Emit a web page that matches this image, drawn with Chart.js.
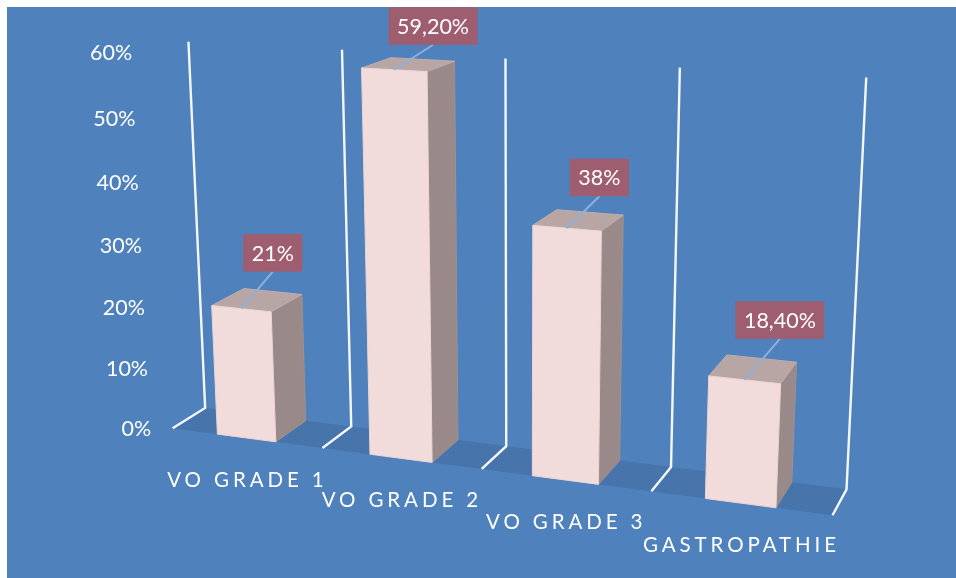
<!DOCTYPE html>
<html><head><meta charset="utf-8">
<style>html,body{margin:0;padding:0;background:#fff}canvas{display:block}</style>
<script src="https://cdn.jsdelivr.net/npm/chart.js@4"></script>
</head><body>
<canvas id="c" width="956" height="578"></canvas>
<script>
const categories = ['VO GRADE 1','VO GRADE 2','VO GRADE 3','GASTROPATHIE'];
const values = [21, 59.2, 38, 18.4];
const valueLabels = ['21%','59,20%','38%','18,40%'];
const yMax = 60, yStep = 10;
// offset of each callout box (bottom centre) from the bar's top front edge
const calloutDx = [31.5, 39, 32.5, 35.5];
const calloutDy = [-37, -25, -32, -41];

// camera calibration: plot-box position [s,t,depth] -> picture position
const sceneBack  = [[205,407.7],[351.7,426.7],[506,446],[670.8,467.2],[846.7,489.3]];
const sceneFront = [[172.7,428.3],[322.3,447.7],[481.7,469.3],[651.7,491.2],[832.3,515.3]];
const sceneTop   = [[188.3,41.7],[342,50],[505.7,58.3],[680,68],[866,77]];

function solveCamera(){
  const A=[],b=[];
  const add=(s,t,d,u,v)=>{
    A.push([s,t,d,1,0,0,0,0,-u*s,-u*t,-u*d]);b.push(u);
    A.push([0,0,0,0,s,t,d,1,-v*s,-v*t,-v*d]);b.push(v);
  };
  sceneBack.forEach((p,i)=>add(i/4,0,0,p[0],p[1]));
  sceneFront.forEach((p,i)=>add(i/4,0,1,p[0],p[1]));
  sceneTop.forEach((p,i)=>add(i/4,1,0,p[0],p[1]));
  const n=11,M=[];
  for(let i=0;i<n;i++){M.push(new Array(n+1).fill(0));
    for(let j=0;j<n;j++)for(let r=0;r<A.length;r++)M[i][j]+=A[r][i]*A[r][j];
    for(let r=0;r<A.length;r++)M[i][n]+=A[r][i]*b[r];}
  for(let c=0;c<n;c++){let m=c;for(let r=c+1;r<n;r++)if(Math.abs(M[r][c])>Math.abs(M[m][c]))m=r;
    [M[c],M[m]]=[M[m],M[c]];
    for(let r=0;r<n;r++){if(r===c)continue;const f=M[r][c]/M[c][c];for(let k=c;k<=n;k++)M[r][k]-=f*M[c][k];}}
  return M.map((row,i)=>row[n]/row[i]);
}
const P=solveCamera();
const project=(s,t,d)=>{const w=P[8]*s+P[9]*t+P[10]*d+1;
  return [(P[0]*s+P[1]*t+P[2]*d+P[3])/w,(P[4]*s+P[5]*t+P[6]*d+P[7])/w];};

const poly=(ctx,pts,fill,stroke)=>{ctx.beginPath();pts.forEach((p,i)=>i?ctx.lineTo(p[0],p[1]):ctx.moveTo(p[0],p[1]));ctx.closePath();
  ctx.fillStyle=fill;ctx.fill();if(stroke){ctx.strokeStyle=stroke;ctx.lineWidth=1;ctx.stroke();}};

const scene3d={id:'scene3d',
  beforeDraw(chart){
    const ctx=chart.ctx;
    ctx.save();ctx.fillStyle='#fff';ctx.fillRect(0,0,chart.width,chart.height);
    ctx.fillStyle='#4F81BD';ctx.fillRect(7,7,chart.width-7,chart.height-7);
    // floor
    poly(ctx,[project(0,0,0),project(1,0,0),project(1,0,1),project(0,0,1)],'#4674AB');
    // grid lines on walls
    ctx.strokeStyle='#F4F8FC';ctx.lineWidth=2.4;ctx.lineJoin='miter';
    const n=chart.scales.x.ticks.length;
    for(let i=0;i<=n;i++){const s=i/n;ctx.beginPath();
      let p=project(s,0,1);ctx.moveTo(p[0],p[1]);p=project(s,0,0);ctx.lineTo(p[0],p[1]);p=project(s,1,0);ctx.lineTo(p[0],p[1]);ctx.stroke();}
    ctx.restore();
  },
  afterDatasetsDraw(chart){
    const ctx=chart.ctx,{left,bottom,width:W,height:H}=chart.chartArea;
    const xs=chart.scales.x,ys=chart.scales.y;
    const S=x=>(x-left)/W,T=y=>(bottom-y)/H;
    ctx.save();
    const els=chart.getDatasetMeta(0).data;
    els.forEach((el,i)=>{
      const s0=S(el.x-el.width/2),s1=S(el.x+el.width/2),t=T(el.y),t0=T(el.base);
      poly(ctx,[project(s1,t0,1),project(s1,t0,0),project(s1,t,0),project(s1,t,1)],'#998A89','#9F908F');
      poly(ctx,[project(s0,t,1),project(s1,t,1),project(s1,t,0),project(s0,t,0)],'#B8A6A5','#BEADAC');
      poly(ctx,[project(s0,t0,1),project(s1,t0,1),project(s1,t,1),project(s0,t,1)],'#F2DCDB','#EBD5D4');
    });
    // y tick labels
    ctx.fillStyle='#fff';ctx.textBaseline='middle';ctx.textAlign='right';ctx.font='21.5px Lato';
    ys.ticks.forEach(tk=>{const t=T(ys.getPixelForValue(tk.value));const p=project(0,t,1);ctx.fillText(tk.label,p[0]-21.5,p[1]+1+1.5*t);});
    // category labels
    ctx.textAlign='center';ctx.font='20.5px Lato';ctx.letterSpacing='3.9px';
    xs.ticks.forEach((tk,i)=>{const p=project(S(xs.getPixelForTick(i)),0,1);ctx.fillText(xs.getLabelForValue(tk.value),p[0]+1,p[1]+42);});
    ctx.letterSpacing='0px';
    // callouts
    els.forEach((el,i)=>{
      const a=project(S(el.x),T(el.y),1);
      const cx=a[0]+calloutDx[i],by=a[1]+calloutDy[i];
      ctx.font='21.5px Lato';
      const w=ctx.measureText(valueLabels[i]).width+17,h=37.5;
      ctx.strokeStyle='#8FB0D8';ctx.lineWidth=2;ctx.beginPath();ctx.moveTo(cx,by);ctx.lineTo(a[0],a[1]);ctx.stroke();
      ctx.fillStyle='#9E5E70';ctx.fillRect(cx-w/2,by-h,w,h);
      ctx.fillStyle='#fff';ctx.textAlign='center';ctx.fillText(valueLabels[i],cx,by-h/2+1);
    });
    ctx.restore();
  }
};

new Chart(document.getElementById('c'),{
  type:'bar',
  data:{labels:categories,datasets:[{data:values,backgroundColor:'rgba(0,0,0,0)',borderWidth:0,barPercentage:0.39,categoryPercentage:1}]},
  plugins:[scene3d],
  options:{responsive:false,animation:false,
    plugins:{legend:{display:false},tooltip:{enabled:false}},
    layout:{padding:0},
    scales:{
      x:{display:false},
      y:{display:false,min:0,max:yMax,ticks:{stepSize:yStep,callback:v=>v+'%'}}
    }}
});
</script>
</body></html>
